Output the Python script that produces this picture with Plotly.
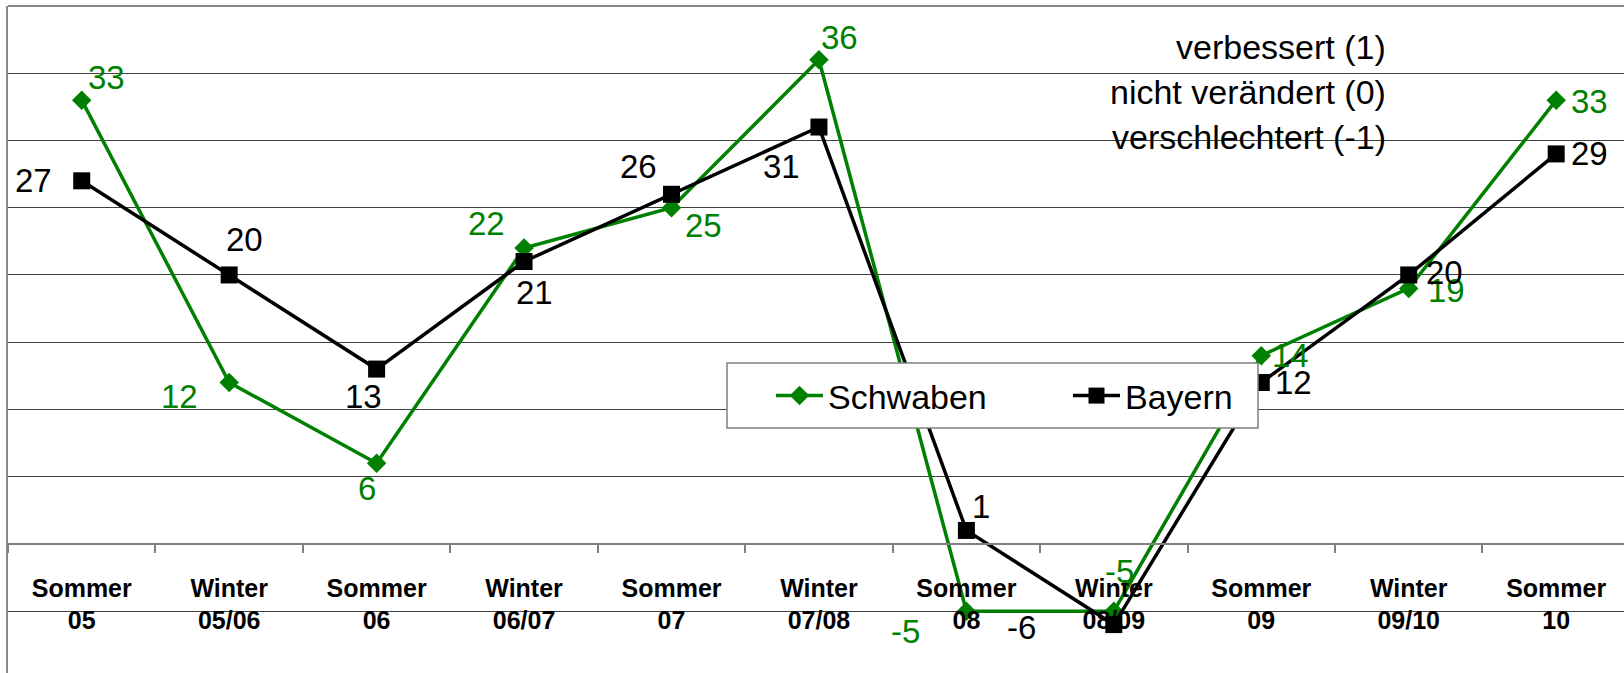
import plotly.graph_objects as go

# ---- data ----
categories = ["Sommer<br>05", "Winter<br>05/06", "Sommer<br>06", "Winter<br>06/07",
              "Sommer<br>07", "Winter<br>07/08", "Sommer<br>08", "Winter<br>08/09",
              "Sommer<br>09", "Winter<br>09/10", "Sommer<br>10"]
schwaben = [33, 12, 6, 22, 25, 36, -5, -5, 14, 19, 33]
bayern = [27, 20, 13, 21, 26, 31, 1, -6, 12, 20, 29]
notes = ["verbessert (1)", "nicht verändert (0)", "verschlechtert (-1)"]

# ---- style: label offsets in px (dx right, dy down) ----
schwaben_off = [(25, -23), (-50, 14), (-10, 25), (-38, -25), (32, 18), (21, -22),
                (-61, 20), (6, -40), (29, 0), (38, 2), (33, 1)]
bayern_off = [(-48, 0), (15, -35), (-13, 27), (10, 31), (-33, -28), (-37, 39),
              (15, -24), (-92, 3), (32, 0), (36, -2), (33, 0)]

W, H = 1624, 673
ML, MT = 8, 6
PW, PH = W - ML, H - MT
FONT = "Liberation Sans, Arial, sans-serif"
GREEN = "#008000"
YMIN, YMAX = -9.6, 40

fig = go.Figure()
fig.add_trace(go.Scatter(
    x=categories, y=schwaben, name="Schwaben", mode="lines+markers",
    line=dict(color=GREEN, width=3.5),
    marker=dict(symbol="diamond", size=15, color=GREEN)))
fig.add_trace(go.Scatter(
    x=categories, y=bayern, name="Bayern", mode="lines+markers",
    line=dict(color="black", width=3.5),
    marker=dict(symbol="square", size=17, color="black")))

annotations = []
for vals, offs, col in ((schwaben, schwaben_off, GREEN), (bayern, bayern_off, "black")):
    for c, v, (dx, dy) in zip(categories, vals, offs):
        annotations.append(dict(
            x=c, y=v, xref="x", yref="y", text=str(v), showarrow=False,
            xanchor="center", yanchor="middle", xshift=dx, yshift=-dy,
            font=dict(family=FONT, size=33, color=col)))


def px_x(px):
    return (px - ML) / PW


def px_y(px):
    return 1 - (px - MT) / PH


for t, ypx in zip(notes, [47, 92, 137]):
    annotations.append(dict(
        x=px_x(1388), y=px_y(ypx), xref="paper", yref="paper", text=t,
        showarrow=False, xanchor="right", yanchor="middle",
        font=dict(family=FONT, size=34, color="black")))

fig.update_layout(
    width=W, height=H, autosize=False,
    margin=dict(l=ML, r=0, t=MT, b=0, pad=0),
    paper_bgcolor="white", plot_bgcolor="white",
    font=dict(family=FONT, color="black"),
    showlegend=True,
    legend=dict(orientation="h", x=px_x(771), y=px_y(396), xanchor="left", yanchor="middle",
                bgcolor="rgba(0,0,0,0)", borderwidth=0, itemwidth=47,
                font=dict(family=FONT, size=34, color="black"),
                entrywidth=235, entrywidthmode="pixels"),
    xaxis=dict(type="category", range=[-0.5, 10.46], anchor="free",
               position=(0 - YMIN) / (YMAX - YMIN),
               showline=True, linecolor="#808080", linewidth=1.5,
               ticks="outside", ticklen=8, tickcolor="#808080", tickwidth=1.5,
               tickson="boundaries", showgrid=False, ticklabelstandoff=22,
               tickfont=dict(family=FONT, size=25, color="black", weight="bold")),
    yaxis=dict(range=[YMIN, YMAX], dtick=5, tick0=0, showgrid=True,
               gridcolor="#404040", gridwidth=1, zeroline=False,
               showticklabels=False, showline=True, linecolor="#888888", linewidth=2,
               domain=[0, 1]),
    annotations=annotations,
    shapes=[
        dict(type="line", xref="paper", yref="paper", x0=0, x1=1, y0=1, y1=1,
             line=dict(color="#888888", width=2)),
        dict(type="rect", xref="paper", yref="paper", layer="above",
             x0=px_x(727), x1=px_x(1258), y0=px_y(428), y1=px_y(363),
             fillcolor="white", line=dict(color="#808080", width=1.5)),
    ],
)

fig.write_html("out.html", config={"displayModeBar": False},
               post_script="document.body.style.margin='0';document.body.style.overflow='hidden';")
